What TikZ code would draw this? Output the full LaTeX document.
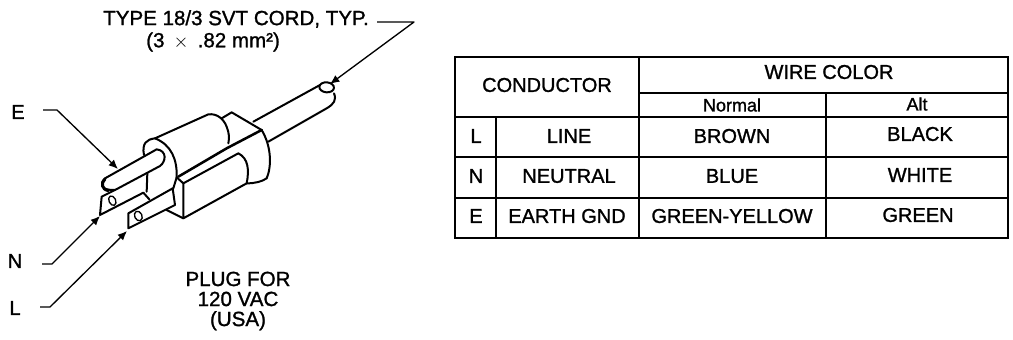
\documentclass[tikz,border=0pt]{standalone}
\usepackage{fontspec}
\setmainfont{Liberation Sans}[BoldFont={Liberation Sans},BoldFeatures={FakeBold=1.2}]
\usetikzlibrary{arrows.meta}
\tikzset{
  lbl/.style={inner sep=0pt,font=\fontsize{15pt}{15pt}\selectfont\bfseries,align=center},
  widelbl/.style={lbl,font=\fontsize{15.4pt}{15pt}\selectfont\bfseries},
  smalllbl/.style={inner sep=0pt,font=\fontsize{13.5pt}{14pt}\selectfont\bfseries},
  rule/.style={line width=2pt},
  thinrule/.style={line width=1.4pt},
  leader/.style={line width=1pt,-{Latex[length=7pt,width=6pt]},line join=round},
  plugline/.style={line width=1.5pt,line cap=round,line join=round},
  holeline/.style={line width=1pt},
}
\begin{document}
\begin{tikzpicture}[x=0.75pt,y=-0.75pt]
\useasboundingbox (0,0) rectangle (1013,339);
\fill[white] (0,0) rectangle (1013,339);
% table
\draw[rule] (455,57) rectangle (1008,238);
\draw[rule] (455,117) -- (1008,117);
\draw[rule] (455,157) -- (1008,157);
\draw[rule] (455,198) -- (1008,198);
\draw[thinrule] (639,93) -- (1008,93);
\draw[rule] (639,57) -- (639,238);
\draw[rule] (826,93) -- (826,238);
\draw[rule] (496,117) -- (496,238);
\node[lbl] (h1) at (547,85) {CONDUCTOR};
\node[lbl] (h2) at (829,72) {WIRE COLOR};
\node[smalllbl] (h3) at (732,105) {Normal};
\node[smalllbl] (h4) at (917,104) {Alt};
\node[lbl] (a1) at (476,136) {L};
\node[lbl] (a2) at (569,136) {LINE};
\node[lbl] (a3) at (732,136) {BROWN};
\node[lbl] (a4) at (920,134) {BLACK};
\node[lbl] (b1) at (476,176) {N};
\node[lbl] (b2) at (569,176) {NEUTRAL};
\node[lbl] (b3) at (732,176) {BLUE};
\node[lbl] (b4) at (920,175) {WHITE};
\node[lbl] (c1) at (476,216) {E};
\node[lbl] (c2) at (567,216) {EARTH GND};
\node[lbl] (c3) at (732,216) {GREEN-YELLOW};
\node[lbl] (c4) at (918,215) {GREEN};
% labels
\node[widelbl,anchor=west] (tt) at (103,19) {TYPE 18/3 SVT CORD, TYP.};
\node[widelbl,anchor=west] (ts) at (146,42) {(3 \,$\times$\, .82 mm²)};
\node[lbl] (E) at (18,112) {E};
\node[lbl] (N) at (15,261) {N};
\node[lbl] (L) at (15,308) {L};
\node[widelbl] (pl) at (238,301) {PLUG FOR\\[0pt]120 VAC\\[0pt](USA)};
% leaders
\coordinate (cordtip) at (330,84);
\coordinate (etip) at (118,169);
\coordinate (ntip) at (100,216);
\coordinate (ltip) at (127,231);
\draw[leader] (377,22) -- (414,22) -- (cordtip);
\draw[leader] (43,110) -- (57,110) -- (etip);
\draw[leader] (42,264) -- (52,264) -- (ntip);
\draw[leader] (40,307) -- (50,307) -- (ltip);
% plug
\begin{scope}[shift={(60,80)},x=0.25pt,y=-0.25pt,plugline]
 % cord
 \draw (580,125) -- (780,15);
 \draw (625,185) -- (800,85) .. controls (822,72) and (830,60) .. (822,40);
 \draw[rotate around={-5:(800,22)}] (800,22) ellipse (22 and 15);
 % rear boot
 \draw (485,115) -- (515,97) -- (605,150) .. controls (635,200) and (635,260) .. (620,295) .. controls (605,305) and (585,310) .. (560,310);
 % front sleeve
 \draw (252,225) .. controls (245,190) and (260,178) .. (285,175) -- (445,103) .. controls (470,100) and (490,115) .. (500,140) .. controls (508,160) and (508,175) .. (505,190);
 \draw (285,175) .. controls (335,195) and (352,240) .. (350,292);
 % ridge
 \draw[line width=1.9pt] (355,290) -- (500,205) -- (605,150);
 % lower block
 \draw (350,292) -- (370,310) -- (535,220) .. controls (565,235) and (568,270) .. (560,310);
 \draw (370,310) -- (370,415) -- (560,310);
 \draw (370,415) -- (320,390);
 % pin
 \draw (290,208) -- (135,295) .. controls (118,310) and (122,332) .. (165,330) -- (300,258) .. controls (318,245) and (322,212) .. (290,208);
 \draw[line width=2.2pt] (135,297) .. controls (122,310) and (125,328) .. (145,332);
 % pin base to blade
 \draw (262,280) -- (260,335);
 % blade N
 \draw (165,330) -- (125,350) -- (120,405) -- (250,338) -- (268,358);
 \draw[holeline,rotate around={25:(157,362)}] (157,362) ellipse (10 and 15);
 % blade L
 \draw (205,400) -- (338,325) -- (345,375) -- (205,445) -- cycle;
 \draw[holeline,rotate around={25:(235,408)}] (235,408) ellipse (11 and 15);
 \draw (340,325) -- (350,292);
\end{scope}
\end{tikzpicture}
\end{document}
